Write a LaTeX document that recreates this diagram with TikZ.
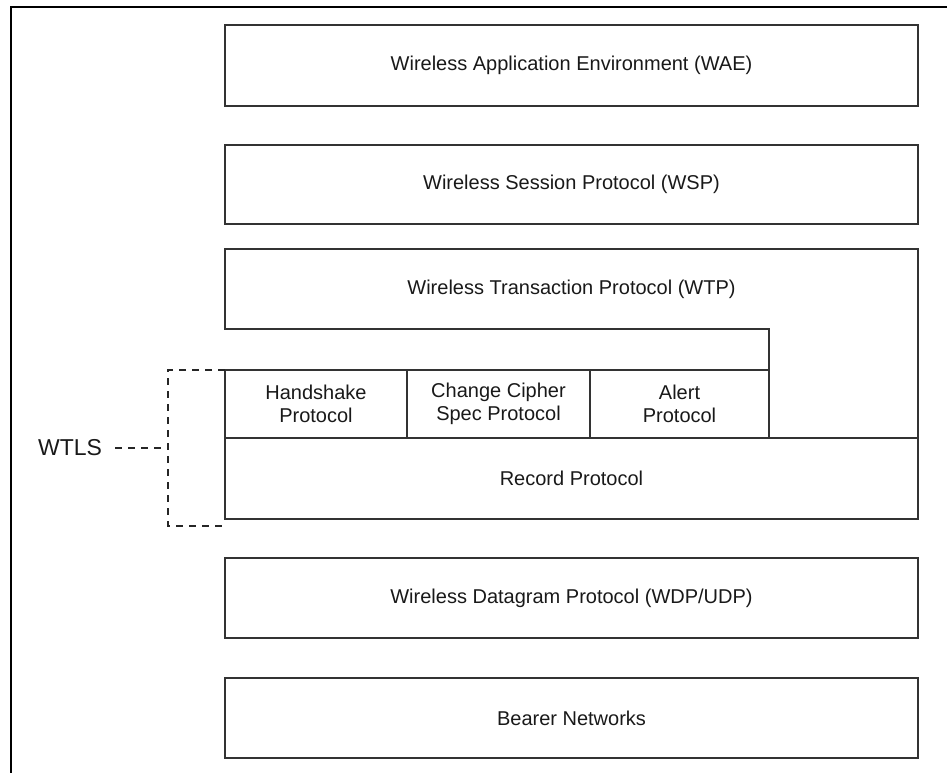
\documentclass[tikz,border=0pt]{standalone}
\usepackage{fontspec}
\setmainfont{Liberation Sans}
\usetikzlibrary{positioning}

\begin{document}
\begin{tikzpicture}[x=1pt, y=-1pt,
  every node/.style={font=\fontsize{20}{23.5}\selectfont, text=black!90},
  layer/.style={draw=black!80, line width=1.2pt, minimum width=693pt, minimum height=80pt, inner sep=0pt, outer sep=0pt},
  cell/.style={draw=black!80, line width=1.2pt, minimum height=68pt, inner sep=0pt, outer sep=0pt, align=center},
  bracket/.style={draw=black!85, line width=1.1pt, dash pattern=on 7pt off 6pt}]

  \useasboundingbox (0,0) rectangle (947,773);

  % ===== Page frame (left and top only) =====
  \draw[line width=1.3pt] (11,773) -- (11,7) -- (947,7);

  % ===== Upper layers =====
  \node[layer, minimum height=81pt] (wae) at (571.5,65.5) {Wireless Application Environment (WAE)};
  \node[layer, minimum height=79pt] (wsp) at (571.5,184.5) {Wireless Session Protocol (WSP)};

  % WTP is an L-shape wrapping round the WTLS sub-protocols
  \node[layer, draw=none] (wtp) at (571.5,289) {Wireless Transaction Protocol (WTP)};

  % ===== WTLS sub-protocols =====
  \node[cell, minimum width=182pt] (hs) at (316,404) {Handshake\\Protocol};
  \node[cell, minimum width=183pt, right=0pt of hs] (ccs) {Change Cipher\\Spec Protocol};
  \node[cell, minimum width=179pt, right=0pt of ccs] (alert) {Alert\\Protocol};

  \node[layer, minimum height=81pt] (rec) at (571.5,478.5) {Record Protocol};

  \draw[draw=black!80, line width=1.2pt] (wtp.south west) -- (wtp.north west) -- (wtp.north east)
    -- (rec.north east) -- (alert.south east) -- (alert.east |- wtp.south) -- cycle;

  % ===== Lower layers =====
  \node[layer] (wdp) at (571.5,598) {Wireless Datagram Protocol (WDP/UDP)};
  \node[layer] (bearer) at (571.5,718) {Bearer Networks};

  % ===== WTLS bracket =====
  \coordinate (brt) at (168,370);
  \coordinate (brm) at (168,448);
  \coordinate (brb) at (168,526);
  \coordinate (bre) at (225,526);
  \node[font=\fontsize{23}{26}\selectfont] (wtls) at (70,448) {WTLS};

  \draw[bracket] (hs.north west) -- (brt) -- (brb) -- (bre);
  \draw[bracket] (wtls.east) ++(10,0) -- (brm);

\end{tikzpicture}
\end{document}
